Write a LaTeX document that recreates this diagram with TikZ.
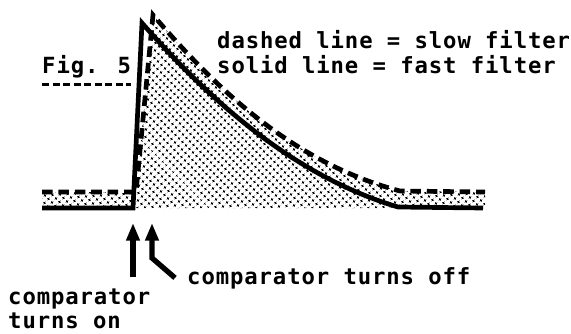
\documentclass[tikz,border=0pt]{standalone}
\usepackage{fontspec}
\newfontfamily\platefont{DejaVu Sans Mono Bold}[LetterSpace=4]
\usetikzlibrary{arrows.meta,patterns.meta,positioning}
\tikzdeclarepattern{
  name=stipple,
  type=uncolored,
  bottom left={(-2.1pt,-2.1pt)},
  top right={(2.1pt,2.1pt)},
  tile size={(4.2pt,4.2pt)},
  tile transformation={rotate=45},
  code={\fill (0,0) circle (1.35pt);}
}
\tikzset{
  plate text/.style={font=\platefont\fontsize{19}{20.5}\selectfont,inner sep=0pt,align=left},
  stipple fill/.style={pattern={stipple},pattern color=black},
  slow trace/.style={line width=4pt,dash pattern=on 9pt off 5pt,line join=miter},
  fast trace/.style={line width=4pt,line join=miter},
  fig rule/.style={line width=2.5pt,dash pattern=on 6pt off 3pt},
  marker arrow/.style={-{Triangle[length=15pt,width=11pt]},line width=4.5pt,line join=miter}
}
\begin{document}
\begin{tikzpicture}[x=0.03cm,y=-0.03cm]
  \useasboundingbox (0,0) rectangle (571,333);
  % stippled area under the slow trace
  \fill[stipple fill] (42,192) -- (136,192) -- (153,15)
    .. controls (213,85) and (290,162) .. (400,191)
    -- (485,192) -- (485,208) -- (42,208) -- cycle;
  % slow filter (dashed) and fast filter (solid)
  \draw[slow trace] (42,192) -- (136,192) -- (153,15)
    .. controls (213,85) and (290,162) .. (400,191) -- (485,192);
  \draw[fast trace] (42,208) -- (133,208) -- (142,23)
    .. controls (205,95) and (290,175) .. (398,207) -- (483,208);
  % labels
  \node[plate text,anchor=base west] (fig) at (42,73) {Fig. 5};
  \draw[fig rule] ([yshift=-10pt]fig.base west) -- ([yshift=-10pt]fig.base east);
  \node[plate text,anchor=base west] (slowkey) at (217,48) {dashed line = slow filter};
  \node[plate text,anchor=base west] (fastkey) at (217,73) {solid line = fast filter};
  \node[plate text,anchor=base west] (offlabel) at (187,284) {comparator turns off};
  \node[plate text,anchor=north west] (onlabel) at (8,289) {comparator\\turns on};
  % comparator markers
  \coordinate (onTip) at (133,223);
  \coordinate (offTip) at (152,223);
  \coordinate (offBend) at (152,258);
  \draw[marker arrow,shorten <=10pt] (onlabel.north -| onTip) -- (onTip);
  \draw[marker arrow] (offlabel.west) ++(-12,0) -- (offBend) -- (offTip);
\end{tikzpicture}
\end{document}
